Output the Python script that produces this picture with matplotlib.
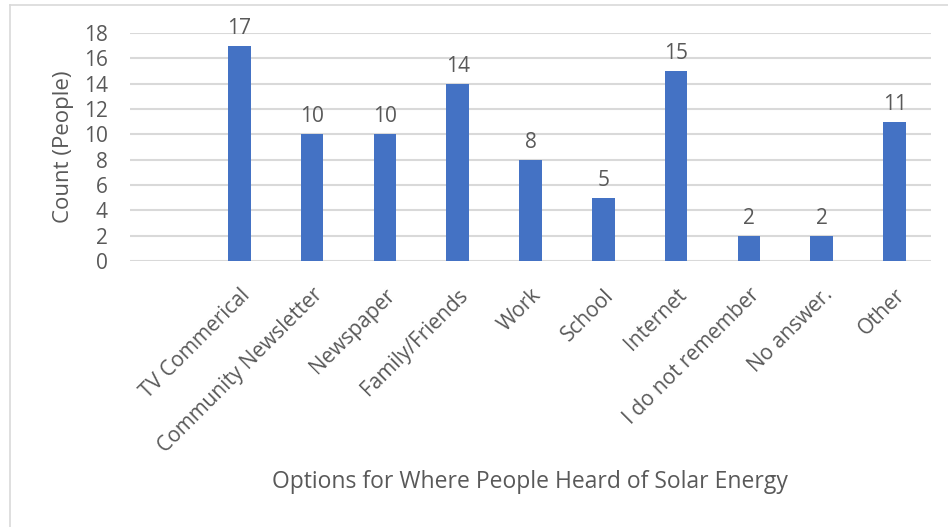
import numpy as np
import matplotlib
matplotlib.use('Agg')
import matplotlib.pyplot as plt
from matplotlib.lines import Line2D

plt.rcParams['font.family'] = ['Open Sans', 'DejaVu Sans']

categories = ['TV Commerical', 'Community Newsletter', 'Newspaper', 'Family/Friends',
              'Work', 'School', 'Internet', 'I do not remember', 'No answer.', 'Other']
counts = [17, 10, 10, 14, 8, 5, 15, 2, 2, 11]

text_color = '#595959'
grid_color = '#D9D9D9'
bar_color = '#4472C4'

fig = plt.figure(figsize=(9.48, 5.27), dpi=100)
ax = fig.add_axes([130 / 948, 1 - 261 / 527, (931 - 130) / 948, (261 - 33) / 527])

x = np.arange(len(categories))
bars = ax.bar(x, counts, width=0.31, color=bar_color, zorder=3)
for xi, c in zip(x, counts):
    ax.annotate(str(c), (xi, c), xytext=(0, 5), textcoords='offset points',
                ha='center', va='bottom', fontsize=15, color=text_color)

ax.set_xlim(-1.5, len(categories) - 0.5)
ax.set_ylim(0, 18)
ax.set_yticks(np.arange(0, 19, 2))
ax.grid(axis='y', color=grid_color, linewidth=1.5, zorder=0)
for s in ax.spines.values():
    s.set_visible(False)
ax.tick_params(length=0, labelsize=15, colors=text_color)
ax.tick_params(axis='y', pad=16)

ax.set_xticks(x)
ax.set_xticklabels(categories, rotation=45, ha='right', rotation_mode='anchor')
ax.tick_params(axis='x', pad=17)

ax.set_ylabel('Count (People)', fontsize=16, color=text_color, labelpad=7)
fig.text(530 / 948, 1 - 482 / 527, 'Options for Where People Heard of Solar Energy',
         ha='center', va='center', fontsize=16.5, color=text_color)

# chart area border (left and top edges visible in the crop)
fig.add_artist(Line2D([10 / 948, 10 / 948], [0, 1 - 5 / 527], transform=fig.transFigure,
                      color=grid_color, linewidth=1.2))
fig.add_artist(Line2D([10 / 948, 1], [1 - 5 / 527, 1 - 5 / 527], transform=fig.transFigure,
                      color=grid_color, linewidth=1.2))

fig.savefig('out.png', dpi=100)
